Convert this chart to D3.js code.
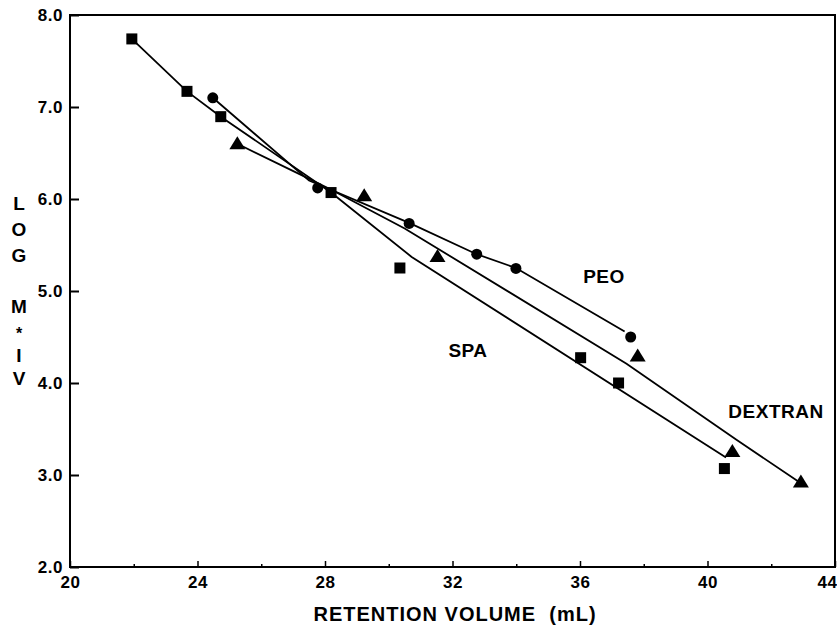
<!DOCTYPE html>
<html>
<head>
<meta charset="utf-8">
<script src="https://cdn.jsdelivr.net/npm/d3@7"></script>
<style>
  body { margin: 0; background: #fff; }
  text { font-family: "Liberation Sans", Arial, sans-serif; font-weight: bold; fill: #000; }
</style>
</head>
<body>
<div id="chart"></div>
<script>
// SPA (squares)
var spaX = [21.94, 23.67, 24.73, 28.19, 30.35, 36.02, 37.21, 40.53];
var spaY = [7.74, 7.17, 6.895, 6.07, 5.25, 4.275, 4.0, 3.07];
var spaLineX = [21.94, 23.67, 24.73, 28.19, 30.72, 40.58];
var spaLineY = [7.74, 7.17, 6.895, 6.07, 5.37, 3.19];
// PEO (circles)
var peoX = [24.48, 27.77, 30.64, 32.76, 33.99, 37.59];
var peoY = [7.10, 6.12, 5.735, 5.40, 5.245, 4.50];
var peoLineX = [24.48, 27.5, 30.64, 32.76, 33.99, 37.4];
var peoLineY = [7.10, 6.20, 5.74, 5.40, 5.25, 4.56];
// DEXTRAN (triangles)
var dexX = [25.25, 29.23, 31.53, 37.81, 40.78, 42.93];
var dexY = [6.605, 6.04, 5.38, 4.30, 3.26, 2.93];
var dexLineX = [25.25, 27.2, 28.2, 30.5, 37.46, 40.92, 42.85];
var dexLineY = [6.60, 6.27, 6.10, 5.68, 4.21, 3.38, 2.93];

var xMajor = [20, 24, 28, 32, 36, 40, 44];
var xMinor = [22, 26, 30, 34, 38, 42];
var yTicks = [2, 3, 4, 5, 6, 7, 8];
var yTitle = ["L", "O", "G", "M", "*", "I", "V"];

var svgW = 837, svgH = 625;
var padL = 70, padR = 835, padT = 15, padB = 567;

var svg = d3.select("#chart").append("svg")
  .attr("width", svgW).attr("height", svgH);

var x = d3.scaleLinear().domain([20, 44]).range([padL, padR]);
var y = d3.scaleLinear().domain([2, 8]).range([padB, padT]);

// frame
svg.append("rect")
  .attr("x", padL).attr("y", padT)
  .attr("width", padR - padL).attr("height", padB - padT)
  .attr("fill", "none").attr("stroke", "#000").attr("stroke-width", 2);

// y axis, ticks pointing inward
var yAxis = svg.append("g")
  .attr("transform", "translate(" + padL + ",0)")
  .call(d3.axisLeft(y).tickValues(yTicks).tickFormat(d3.format(".1f"))
    .tickSize(-9).tickSizeOuter(0).tickPadding(7));
yAxis.select(".domain").remove();
yAxis.selectAll("line").attr("stroke-width", 2);
yAxis.selectAll("text").attr("font-family", null).attr("font-size", null)
  .style("font-size", "17px").style("letter-spacing", "0.5px");

// x axis
var xMin = svg.append("g")
  .attr("transform", "translate(0," + padB + ")")
  .call(d3.axisBottom(x).tickValues(xMinor).tickFormat("").tickSize(-3).tickSizeOuter(0));
xMin.select(".domain").remove();
xMin.selectAll("line").attr("stroke-width", 1.5);

var xAxis = svg.append("g")
  .attr("transform", "translate(0," + padB + ")")
  .call(d3.axisBottom(x).tickValues(xMajor).tickFormat(d3.format("d"))
    .tickSize(-6).tickSizeOuter(0).tickPadding(9));
xAxis.select(".domain").remove();
xAxis.selectAll("line").attr("stroke-width", 1.5);
xAxis.selectAll("text").attr("font-family", null).attr("font-size", null)
  .style("font-size", "17px").style("letter-spacing", "0.5px")
  .attr("dx", function(d) { return d == 44 ? -8 : 0; });

// axis titles
svg.append("text")
  .attr("x", 455).attr("y", 621)
  .attr("text-anchor", "middle")
  .style("font-size", "20px")
  .style("letter-spacing", "1px")
  .style("white-space", "pre")
  .text("RETENTION VOLUME  (mL)");

var yTitleY = [210, 236, 262, 313, 339, 362, 385];
svg.selectAll(".ytitle")
  .data(yTitle)
  .enter()
  .append("text")
  .attr("class", "ytitle")
  .attr("x", 19)
  .attr("y", function(d, i) { return yTitleY[i]; })
  .attr("text-anchor", "middle")
  .style("font-size", function(d) { return d == "*" ? "16px" : "19px"; })
  .text(function(d) { return d; });

// lines
var line = d3.line()
  .x(function(d) { return x(d[0]); })
  .y(function(d) { return y(d[1]); });

function drawLine(xs, ys) {
  svg.append("path")
    .datum(d3.zip(xs, ys))
    .attr("d", line)
    .attr("fill", "none")
    .attr("stroke", "#000")
    .attr("stroke-width", 1.8);
}
drawLine(spaLineX, spaLineY);
drawLine(peoLineX, peoLineY);
drawLine(dexLineX, dexLineY);

// markers
svg.selectAll(".sq")
  .data(d3.zip(spaX, spaY))
  .enter()
  .append("rect")
  .attr("class", "sq")
  .attr("x", function(d) { return x(d[0]) - 5.5; })
  .attr("y", function(d) { return y(d[1]) - 5.5; })
  .attr("width", 11).attr("height", 11)
  .attr("fill", "#000");

svg.selectAll(".ci")
  .data(d3.zip(peoX, peoY))
  .enter()
  .append("circle")
  .attr("class", "ci")
  .attr("cx", function(d) { return x(d[0]); })
  .attr("cy", function(d) { return y(d[1]); })
  .attr("r", 5.5)
  .attr("fill", "#000");

svg.selectAll(".tri")
  .data(d3.zip(dexX, dexY))
  .enter()
  .append("path")
  .attr("class", "tri")
  .attr("transform", function(d) { return "translate(" + x(d[0]) + "," + y(d[1]) + ")"; })
  .attr("d", "M0,-7L8,6L-8,6Z")
  .attr("fill", "#000");

// series labels
svg.append("text").attr("x", 604).attr("y", 283).attr("text-anchor", "middle")
  .style("font-size", "19px").style("letter-spacing", "0.5px").text("PEO");
svg.append("text").attr("x", 468).attr("y", 357).attr("text-anchor", "middle")
  .style("font-size", "19px").style("letter-spacing", "0.5px").text("SPA");
svg.append("text").attr("x", 776).attr("y", 418).attr("text-anchor", "middle")
  .style("font-size", "19px").style("letter-spacing", "0.5px").text("DEXTRAN");
</script>
</body>
</html>
